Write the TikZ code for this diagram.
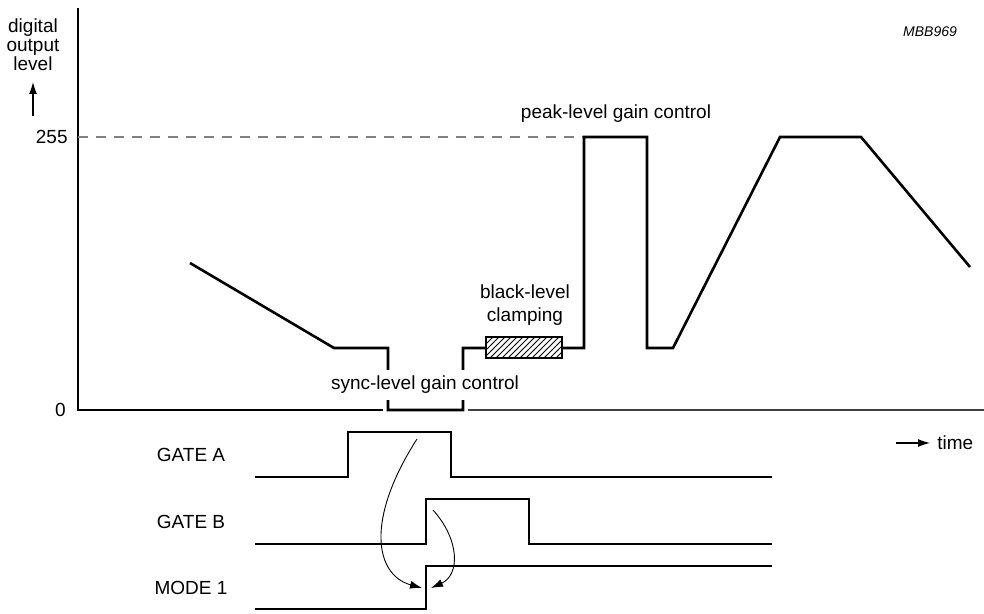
\documentclass[tikz,border=0pt]{standalone}
\usepackage{fontspec}
\setmainfont{Liberation Sans}
\usetikzlibrary{patterns,arrows.meta}

\begin{document}
\begin{tikzpicture}[x=0.5pt,y=-0.5pt,font=\fontsize{9.5}{9.5}\selectfont,
	wave/.style={line width=1.3pt,line join=miter},
	axis/.style={line width=0.7pt},
	lbl/.style={inner sep=1pt,align=center},
	tip/.style={-{Latex[length=6pt,width=4pt]}}]
\useasboundingbox (0,0) rectangle (984,614);
% axes
\draw[axis]			(78,8) -- (78,410) -- (383,410);
\draw[axis,black!75]	(468,410) -- (984,410);
\draw[axis,black!50,dash pattern=on 5pt off 4pt] (78,137) -- (584,137);
\node[lbl]		(ylab)	at (33,45)	{digital\\output\\level};
\coordinate		(yfoot)	at (33,116);
\coordinate		(yhead)	at (33,82);
\draw[tip,line width=0.6pt] (yfoot) -- (yhead);
\node[lbl,left]	(top)	at (70,137)	{255};
\node[lbl,left]	(zero)	at (68,410)	{0};
\node[lbl,right]	(time)	at (935,443)	{time};
\coordinate		(tfoot)	at (896,443);
\coordinate		(thead)	at (930,443);
\draw[tip,line width=0.6pt] (tfoot) -- (thead);
\node[lbl]		(code)	at (930,32)	{\fontsize{7}{7}\selectfont\itshape MBB969};
% video signal
\draw[wave] (190,263) -- (334,348) -- (388,348) -- (388,410) -- (463,410) -- (463,348) -- (486,348)
	(562,348) -- (584,348) -- (584,137) -- (647,137) -- (647,348) -- (673,348)
	-- (780,137) -- (861,137) -- (970,267);
\draw[wave,pattern=north east lines] (486,337) rectangle (562,358);
\node[lbl,fill=white,inner xsep=0pt,inner ysep=3pt] (sync) at (425,385) {sync-level gain control};
\node[lbl]		(clamp)	at (525,305)	{black-level\\[2pt]clamping};
\node[lbl]		(peak)	at (616,114)	{peak-level gain control};
% gate signals
\node[lbl]		(gateA)	at (191,455)	{GATE A};
\node[lbl]		(gateB)	at (191,522)	{GATE B};
\node[lbl]		(mode)	at (191,588)	{MODE 1};
\draw[wave] (255,477) -- (348,477) -- (348,432) -- (451,432) -- (451,477) -- (772,477);
\draw[wave] (255,544) -- (426,544) -- (426,499) -- (529,499) -- (529,544) -- (772,544);
\draw[wave] (255,609) -- (426,609) -- (426,566) -- (772,566);
\coordinate		(a1)	at (417,439);
\coordinate		(b1)	at (433,510);
\coordinate		(m1)	at (422,588);
\coordinate		(m2)	at (431,588);
\draw[tip,line width=0.45pt] (a1) .. controls (365,520) and (375,575) .. (m1);
\draw[tip,line width=0.45pt] (b1) .. controls (460,540) and (460,575) .. (m2);
\end{tikzpicture}
\end{document}
